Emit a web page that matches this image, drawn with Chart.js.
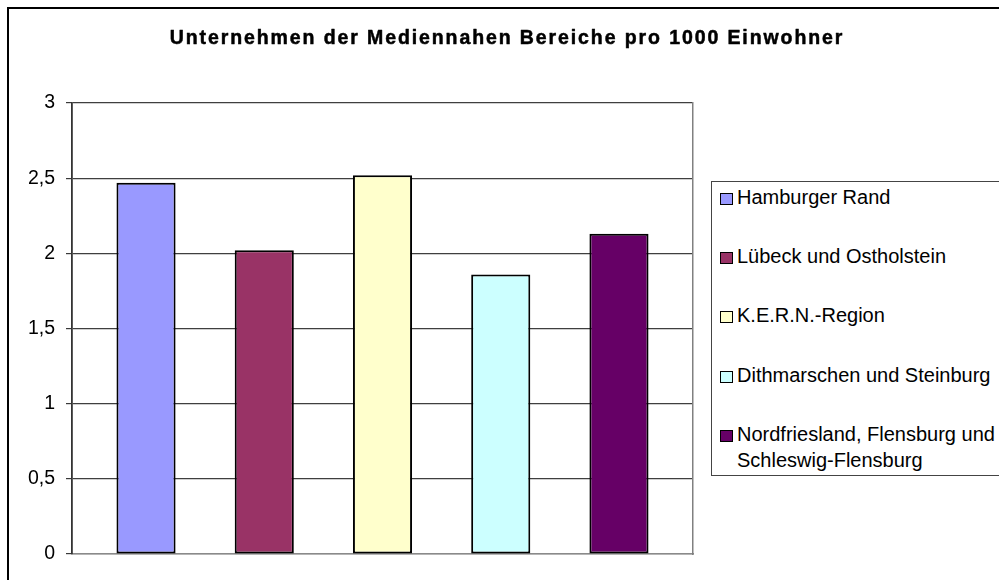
<!DOCTYPE html>
<html>
<head>
<meta charset="utf-8">
<script src="https://cdn.jsdelivr.net/npm/chart.js@4"></script>
<style>
  html, body { margin: 0; padding: 0; width: 999px; height: 580px; overflow: hidden; background: #fff; }
  #frame { position: absolute; left: 7px; top: 7px; width: 1100px; height: 700px; border: 2px solid #000; box-sizing: border-box; }
  #chart { position: absolute; left: 0; top: 0; }
  #legend { position: absolute; left: 711px; top: 181px; width: 400px; height: 295px; border: 1px solid #444; box-sizing: border-box; background: #fff;
            font: 20px "Liberation Sans", Arial, sans-serif; color: #000; }
  .item { position: absolute; left: 25px; width: 272px; line-height: 26px; white-space: normal; }
  .swatch { position: absolute; left: -17px; top: 9px; width: 13px; height: 12px; border: 1px solid #000; box-sizing: border-box; }
</style>
</head>
<body>
<div id="frame"></div>
<canvas id="chart" width="999" height="580"></canvas>
<div id="legend"></div>
<script>
const chartTitle = 'Unternehmen der Mediennahen Bereiche pro 1000 Einwohner';
const categories = [''];
const seriesNames = [
  'Hamburger Rand',
  'Lübeck und Ostholstein',
  'K.E.R.N.-Region',
  'Dithmarschen und Steinburg',
  'Nordfriesland, Flensburg und Schleswig-Flensburg'
];
const seriesValues = [2.47, 2.02, 2.52, 1.86, 2.13];
const seriesColors = ['#9999FF', '#993366', '#FFFFCC', '#CCFFFF', '#660066'];
const yTickLabels = ['0', '0,5', '1', '1,5', '2', '2,5', '3'];

// Title with letter spacing, drawn on the chart canvas
const spacedTitle = {
  id: 'spacedTitle',
  afterDraw(chart, args, opts) {
    const ctx = chart.ctx;
    ctx.save();
    ctx.font = opts.font;
    ctx.fillStyle = opts.color;
    ctx.strokeStyle = opts.color;
    ctx.lineWidth = opts.weight;
    ctx.lineJoin = 'round';
    ctx.textAlign = 'center';
    ctx.textBaseline = 'alphabetic';
    if ('letterSpacing' in ctx) ctx.letterSpacing = opts.spacing;
    ctx.fillText(opts.text, opts.x, opts.y);
    ctx.strokeText(opts.text, opts.x, opts.y);
    ctx.restore();
  }
};

const datasets = seriesNames.map((name, i) => ({
  label: name,
  data: [seriesValues[i]],
  backgroundColor: seriesColors[i],
  borderColor: '#000',
  borderWidth: 2,
  borderSkipped: false,
  categoryPercentage: 0.952,
  barPercentage: 0.5,
  yAxisID: 'y'
}));

const chart = new Chart(document.getElementById('chart'), {
  type: 'bar',
  data: { labels: categories, datasets },
  plugins: [spacedTitle],
  options: {
    responsive: false,
    animation: false,
    devicePixelRatio: 1,
    layout: { padding: { top: 103, left: 0, right: 0, bottom: 0 } },
    plugins: {
      legend: { display: false },
      title: { display: false },
      tooltip: { enabled: false },
      spacedTitle: {
        text: chartTitle,
        font: 'bold 19.5px "Liberation Sans", Arial, sans-serif',
        color: '#000',
        spacing: '1.9px',
        weight: 0.5,
        x: 507,
        y: 44
      }
    },
    scales: {
      x: {
        type: 'category',
        offset: true,
        grid: { display: false },
        ticks: { display: false },
        border: { display: true, color: '#8a8a8a', width: 1.5 },
        afterFit: s => { s.height = 26; }
      },
      y: {
        position: 'left',
        min: 0,
        max: 3,
        ticks: {
          stepSize: 0.5,
          color: '#000',
          padding: 11,
          font: { family: '"Liberation Sans", Arial, sans-serif', size: 19.5 },
          callback: (v, i) => yTickLabels[i]
        },
        grid: {
          color: c => (c.index === 0 ? '#8a8a8a' : '#3f3f3f'),
          tickColor: '#3a3a3a',
          tickLength: 6,
          lineWidth: 1.2
        },
        border: { color: '#333', width: 1.8 },
        afterFit: s => { s.width = 72; }
      },
      yRight: {
        position: 'right',
        display: true,
        grid: { display: false },
        ticks: { display: false },
        border: { color: '#808080', width: 1.5 },
        afterFit: s => { s.width = 306; }
      }
    }
  }
});

// Legend box built from the chart's datasets
const legendEl = document.getElementById('legend');
chart.data.datasets.forEach((ds, i) => {
  const item = document.createElement('div');
  item.className = 'item';
  item.style.top = (2 + i * 59.2) + 'px';
  const sw = document.createElement('span');
  sw.className = 'swatch';
  sw.style.background = ds.backgroundColor;
  item.appendChild(sw);
  item.appendChild(document.createTextNode(ds.label));
  legendEl.appendChild(item);
});
</script>
</body>
</html>
